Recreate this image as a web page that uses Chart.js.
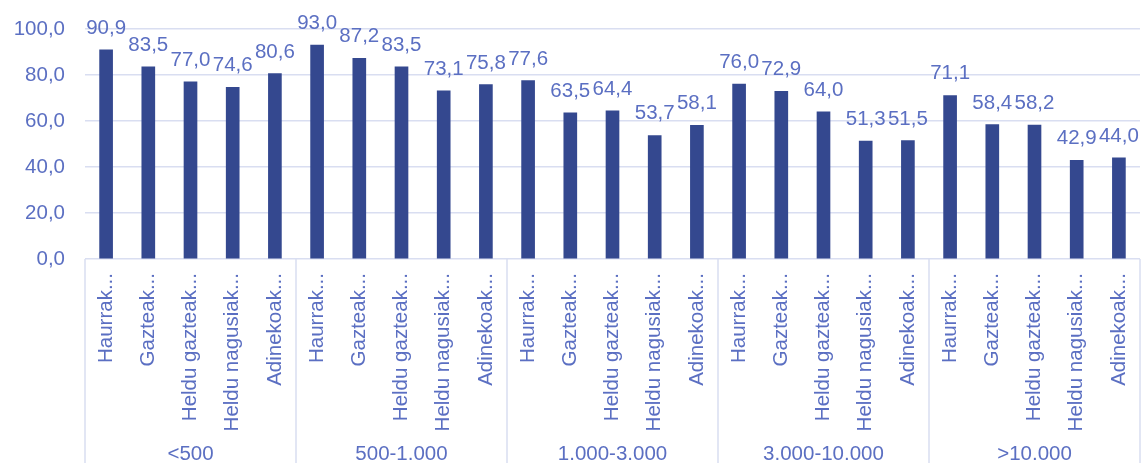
<!DOCTYPE html>
<html>
<head>
<meta charset="utf-8">
<script src="https://cdn.jsdelivr.net/npm/chart.js@4/dist/chart.umd.min.js"></script>
<style>
html,body{margin:0;padding:0;background:#fff;}
#wrap{width:1142px;height:463px;}
</style>
</head>
<body>
<div id="wrap"><canvas id="c" width="1142" height="463"></canvas></div>
<script>
const groups = ["<500", "500-1.000", "1.000-3.000", "3.000-10.000", ">10.000"];
const ageLabels = ["Haurrak...", "Gazteak...", "Heldu gazteak...", "Heldu nagusiak...", "Adinekoak..."];
const valuesLt500 = [90.9, 83.5, 77.0, 74.6, 80.6];
const values500_1000 = [93.0, 87.2, 83.5, 73.1, 75.8];
const values1000_3000 = [77.6, 63.5, 64.4, 53.7, 58.1];
const values3000_10000 = [76.0, 72.9, 64.0, 51.3, 51.5];
const valuesGt10000 = [71.1, 58.4, 58.2, 42.9, 44.0];
const yTicks = [0, 20, 40, 60, 80, 100];

const groupValues = [valuesLt500, values500_1000, values1000_3000, values3000_10000, valuesGt10000];
const labels = [];
const data = [];
groupValues.forEach(g => { ageLabels.forEach((l, i) => { labels.push(l); data.push(g[i]); }); });

const TEXT = '#5B6FC2';
const BAR = '#34488F';
const GRID = '#D9DEF1';
const FONT = '"Liberation Sans", Arial, sans-serif';
const FS = 20.5;

const fmt = v => v.toFixed(1).replace('.', ',');

const overlay = {
  id: 'overlay',
  afterDatasetsDraw(chart) {
    const ctx = chart.ctx;
    const meta = chart.getDatasetMeta(0);
    ctx.save();
    ctx.fillStyle = TEXT;
    ctx.font = FS + 'px ' + FONT;
    ctx.textAlign = 'center';
    ctx.textBaseline = 'alphabetic';
    meta.data.forEach((bar, i) => {
      ctx.fillText(fmt(data[i]), bar.x, bar.y - 16);
    });
    ctx.restore();
  },
  afterDraw(chart) {
    const ctx = chart.ctx;
    const xs = chart.scales.x;
    const n = ageLabels.length;
    const step = xs.getPixelForValue(1) - xs.getPixelForValue(0);
    const top = chart.chartArea.bottom;
    const bottom = chart.height;
    ctx.save();
    ctx.strokeStyle = GRID;
    ctx.lineWidth = 1.5;
    for (let g = 0; g <= groups.length; g++) {
      let x;
      if (g === 0) x = xs.getPixelForValue(0) - step / 2;
      else if (g === groups.length) x = xs.getPixelForValue(g * n - 1) + step / 2;
      else x = (xs.getPixelForValue(g * n - 1) + xs.getPixelForValue(g * n)) / 2;
      ctx.beginPath();
      ctx.moveTo(x, top);
      ctx.lineTo(x, bottom);
      ctx.stroke();
    }
    ctx.fillStyle = TEXT;
    ctx.font = FS + 'px ' + FONT;
    ctx.textAlign = 'center';
    ctx.textBaseline = 'alphabetic';
    groups.forEach((name, g) => {
      const cx = (xs.getPixelForValue(g * n) + xs.getPixelForValue(g * n + n - 1)) / 2;
      ctx.fillText(name, cx, 460);
    });
    ctx.restore();
  }
};

new Chart(document.getElementById('c'), {
  type: 'bar',
  data: {
    labels: labels,
    datasets: [{
      data: data,
      backgroundColor: BAR,
      borderWidth: 0,
      barThickness: 13
    }]
  },
  options: {
    responsive: false,
    animation: false,
    devicePixelRatio: 1,
    layout: { padding: { top: 29, right: 2, left: 0, bottom: 0 } },
    plugins: { legend: { display: false }, tooltip: { enabled: false } },
    scales: {
      x: {
        grid: { display: false },
        border: { display: false },
        ticks: {
          color: TEXT,
          font: { size: FS, family: FONT },
          minRotation: 90,
          maxRotation: 90,
          autoSkip: false,
          padding: 6
        },
        afterFit(scale) { scale.height = 204; scale.paddingLeft = 0; scale.paddingRight = 0; }
      },
      y: {
        min: 0,
        max: 100,
        afterBuildTicks(scale) { scale.ticks = yTicks.map(v => ({ value: v })); },
        grid: { color: GRID, lineWidth: 1.5, drawTicks: false },
        border: { display: false },
        ticks: {
          color: TEXT,
          font: { size: FS, family: FONT },
          padding: 20,
          callback: v => fmt(v)
        },
        afterFit(scale) { scale.width = 85; scale.paddingTop = 0; scale.paddingBottom = 0; }
      }
    }
  },
  plugins: [overlay]
});
</script>
</body>
</html>
